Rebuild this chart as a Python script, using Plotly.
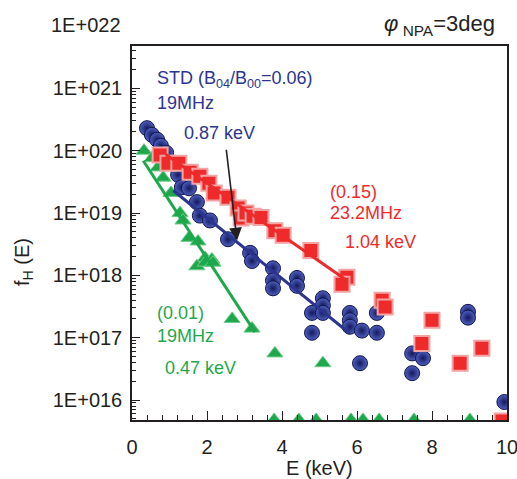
import plotly.graph_objects as go

# ---------------- data ----------------
blue_E = [0.40, 0.53, 0.67, 0.77, 0.91, 1.23, 1.33, 1.52, 1.73, 1.81, 2.08, 2.56, 3.15, 3.20,
          3.76, 3.76, 3.76, 4.40, 4.40, 4.80, 4.80, 5.09, 5.09, 5.09, 5.81, 5.81, 5.81, 6.13,
          6.53, 6.53, 6.08, 7.47, 7.76, 7.47, 8.96, 8.96, 9.93]
blue_f = [2.3e20, 1.8e20, 1.5e20, 1.2e20, 9.3e19, 4.1e19, 2.6e19, 2.5e19, 1.5e19, 9.1e18, 7.6e18,
          3.8e18, 2.3e18, 1.7e18, 1.3e18, 8.3e17, 6.2e17, 9.1e17, 6.8e17, 2.5e17, 1.2e17, 4.3e17,
          3.3e17, 2.5e17, 2.5e17, 1.9e17, 1.5e17, 1.3e17, 2.5e17, 1.2e17, 3.9e16, 5.6e16, 4.7e16,
          2.7e16, 2.6e17, 2.1e17, 9.3e15]

red_E = [0.75, 0.96, 1.25, 1.55, 1.81, 2.05, 2.19, 2.56, 2.83, 2.91, 3.04, 3.23, 3.44, 3.81,
         4.03, 4.77, 5.73, 5.60, 6.67, 6.75, 8.00, 7.73, 9.33, 8.75, 9.87]
red_f = [8.5e19, 6.3e19, 6.3e19, 4.5e19, 3.9e19, 3.0e19, 2.1e19, 1.8e19, 1.2e19, 8.3e18, 1.0e19,
         8.9e18, 8.5e18, 5.2e18, 4.4e18, 2.5e18, 9.3e17, 7.2e17, 4.0e17, 3.1e17, 1.9e17, 8.1e16,
         6.8e16, 3.9e16, 4.6e15]

green_E = [0.32, 0.53, 0.69, 0.83, 1.04, 1.28, 1.36, 1.52, 1.76, 1.95, 2.13, 1.73, 1.95, 2.16,
           2.67, 3.20, 3.81, 5.09,
           3.79, 4.45, 4.91, 5.84, 6.16, 6.59, 7.52, 9.01]
green_f = [1.0e20, 7.6e19, 5.4e19, 3.7e19, 2.1e19, 1.0e19, 7.6e18, 4.0e18, 3.5e18, 1.9e18,
           1.8e18, 1.4e18, 1.6e18, 1.6e18, 2.0e17, 1.4e17, 5.6e16, 3.9e16,
           4.8e15, 4.8e15, 4.8e15, 4.8e15, 4.8e15, 4.8e15, 4.8e15, 4.8e15]

# exponential fits (end points of fitted lines)
blue_fit_E = [1.1, 5.81]
blue_fit_f = [2.3e19, 1.17e17]
red_fit_E = [0.9, 5.73]
red_fit_f = [8.7e19, 8.3e17]
green_fit_E = [0.3, 3.28]
green_fit_f = [6.9e19, 1.23e17]

x_ticks = [0, 2, 4, 6, 8, 10]
y_tickvals = [1e16, 1e17, 1e18, 1e19, 1e20, 1e21]
y_ticktext = ["1E+016", "1E+017", "1E+018", "1E+019", "1E+020", "1E+021"]

BLUE = "#2B3590"
RED = "#EE2A2A"
GREEN = "#1DA84C"
FONT = "Liberation Sans, Arial, sans-serif"

fig = go.Figure()

fig.add_trace(go.Scatter(x=green_E, y=green_f, mode="markers",
                         marker=dict(symbol="triangle-up", size=14, color=GREEN,
                                     line=dict(color="#6CCB8A", width=1)),
                         showlegend=False))
fig.add_trace(go.Scatter(x=blue_E, y=blue_f, mode="markers",
                         marker=dict(symbol="circle", size=15, color="#4F60C4",
                                     gradient=dict(type="radial", color="#141958"),
                                     line=dict(color="#10144A", width=1)),
                         showlegend=False))
fig.add_trace(go.Scatter(x=red_E, y=red_f, mode="markers",
                         marker=dict(symbol="square", size=15, color=RED,
                                     line=dict(color="#F4A3A3", width=2)),
                         showlegend=False))

fig.add_trace(go.Scatter(x=blue_fit_E, y=blue_fit_f, mode="lines",
                         line=dict(color=BLUE, width=3), showlegend=False))
fig.add_trace(go.Scatter(x=red_fit_E, y=red_fit_f, mode="lines",
                         line=dict(color=RED, width=3), showlegend=False))
fig.add_trace(go.Scatter(x=green_fit_E, y=green_fit_f, mode="lines",
                         line=dict(color=GREEN, width=3), showlegend=False))

minor_y = [float(m) * 10.0 ** d for d in range(15, 22) for m in range(2, 10)]

fig.update_layout(
    width=517, height=479,
    margin=dict(l=132, r=10, t=46, b=59, autoexpand=False),
    paper_bgcolor="white", plot_bgcolor="white",
    font=dict(family=FONT, size=19, color="#231F20"),
    xaxis=dict(range=[0, 10], tickvals=x_ticks, ticks="inside", ticklen=9, tickwidth=1,
               tickcolor="#231F20", showline=True, linecolor="#231F20", linewidth=1.5,
               mirror=True, showgrid=False, zeroline=False, automargin=False,
               ticklabeloverflow="allow",
               tickfont=dict(size=20), ticklabelstandoff=8,
               minor=dict(dtick=0.4, ticks="inside", ticklen=5, tickcolor="#231F20",
                          showgrid=False)),
    yaxis=dict(type="log", range=[15.68, 21.68], tickvals=y_tickvals, ticktext=y_ticktext,
               ticks="inside", ticklen=8, tickwidth=1, tickcolor="#231F20",
               showline=True, linecolor="#231F20", linewidth=1.5, mirror=True,
               showgrid=False, zeroline=False, automargin=False,
               ticklabeloverflow="allow",
               tickfont=dict(size=20), ticklabelstandoff=4,
               minor=dict(tickvals=minor_y, ticks="inside", ticklen=4, tickcolor="#231F20",
                          showgrid=False)),
)

ann = []
def txt(x, y, s, color, size=18, xanchor="left"):
    ann.append(dict(x=x, y=y, xref="x", yref="y", text=s, showarrow=False,
                    xanchor=xanchor, yanchor="middle",
                    font=dict(family=FONT, size=size, color=color)))

txt(0.61, 21.14, "STD (B<sub>04</sub>/B<sub>00</sub>=0.06)", BLUE)
txt(0.61, 20.76, "19MHz", BLUE)
txt(1.33, 20.29, "0.87 keV", BLUE)
txt(5.23, 19.33, "(0.15)", RED)
txt(5.23, 19.00, "23.2MHz", RED)
txt(5.63, 18.53, "1.04 keV", RED)
txt(0.61, 17.39, "(0.01)", GREEN)
txt(0.61, 17.03, "19MHz", GREEN)
txt(0.83, 16.51, "0.47 keV", GREEN)

# arrow pointing to blue line
ann.append(dict(x=2.8, y=18.56, xref="x", yref="y", ax=2.51, ay=20.04, axref="x", ayref="y",
                text="", showarrow=True, arrowhead=2, arrowsize=1.6, arrowwidth=1.6,
                arrowcolor="#231F20"))

# texts outside the plot (positions given in pixels, converted below)
ann.append(dict(x=123, y=479 - 25, xref="paper", yref="paper", text="1E+022", showarrow=False,
                font=dict(size=20, color="#231F20"), xanchor="right", yanchor="middle"))
ann.append(dict(x=497, y=479 - 25, xref="paper", yref="paper",
                text="<i>φ</i><sub> NPA</sub>=3deg", showarrow=False,
                font=dict(size=22, color="#231F20"), xanchor="right", yanchor="middle"))
ann.append(dict(x=319, y=479 - 468, xref="paper", yref="paper", text="E (keV)",
                showarrow=False, font=dict(size=20, color="#231F20"),
                xanchor="center", yanchor="middle"))
ann.append(dict(x=23, y=479 - 262, xref="paper", yref="paper", text="f<sub>H</sub> (E)",
                showarrow=False, textangle=-90, font=dict(size=20, color="#231F20"),
                xanchor="center", yanchor="middle"))

pw, ph = 517 - 132 - 10, 479 - 46 - 59
for a in ann:
    if a.get("xref") == "paper":
        a["x"] = (a["x"] - 132) / pw
        a["y"] = (a["y"] - 59) / ph

fig.update_layout(annotations=ann)
fig.write_html("out.html")
